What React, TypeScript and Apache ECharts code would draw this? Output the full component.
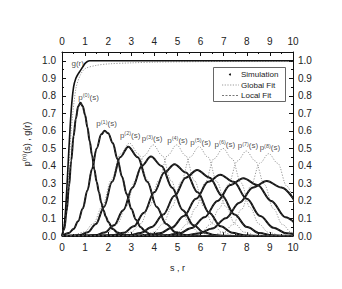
import React, { useEffect, useRef } from 'react';
import * as echarts from 'echarts';

// ---------- data ----------
const xTickValues = [0, 1, 2, 3, 4, 5, 6, 7, 8, 9, 10];

// pair distribution g(r): simulation and global fit
const gSim = [[0, 0], [0.1, 0.06], [0.2, 0.25], [0.3, 0.5], [0.4, 0.72], [0.5, 0.85], [0.6, 0.9], [0.7, 0.925], [0.8, 0.945], [0.9, 0.965], [1.0, 0.985], [1.1, 0.996], [1.2, 1.0], [1.5, 1.0], [2, 1.0], [3, 1.0], [4, 1.0], [5, 1.0], [6, 1.0], [7, 1.0], [8, 1.0], [9, 1.0], [10, 1.0]];
const gGlobal = [[0, 0], [0.2, 0.18], [0.4, 0.6], [0.6, 0.84], [0.8, 0.92], [1.0, 0.955], [1.5, 0.974], [2, 0.982], [3, 0.988], [4, 0.992], [6, 0.995], [8, 0.997], [10, 0.998]];

// spacing distributions p^(n)(s), simulation
const p0Sim = [[0, 0], [0.1, 0.04], [0.2, 0.14], [0.3, 0.28], [0.4, 0.43], [0.5, 0.57], [0.6, 0.67], [0.7, 0.74], [0.8, 0.76], [0.9, 0.74], [1.0, 0.69], [1.1, 0.62], [1.2, 0.54], [1.3, 0.46], [1.4, 0.38], [1.5, 0.31], [1.6, 0.25], [1.7, 0.19], [1.8, 0.145], [1.9, 0.11], [2.0, 0.08], [2.2, 0.04], [2.4, 0.02], [2.6, 0.008], [2.8, 0.003], [3.0, 0.001], [3.5, 0], [10, 0]];
const p1Sim = [[0, 0], [0.3, 0.017], [0.5, 0.04], [0.7, 0.084], [0.9, 0.157], [1.1, 0.26], [1.3, 0.383], [1.5, 0.5], [1.7, 0.58], [1.85, 0.6], [2.0, 0.586], [2.2, 0.53], [2.4, 0.44], [2.6, 0.338], [2.8, 0.239], [3.0, 0.155], [3.2, 0.093], [3.4, 0.052], [3.6, 0.026], [3.8, 0.012], [4.0, 0.005], [4.5, 0.001], [5, 0], [10, 0]];
const p2Sim = [[0, 0], [0.42, 0.001], [0.77, 0.006], [1.12, 0.022], [1.47, 0.069], [1.82, 0.166], [2.17, 0.309], [2.52, 0.45], [2.87, 0.51], [3.28, 0.45], [3.69, 0.309], [4.1, 0.166], [4.51, 0.069], [4.92, 0.022], [5.33, 0.006], [5.74, 0.001], [6.5, 0], [10, 0]];
const p3Sim = [[0, 0], [1.05, 0.001], [1.45, 0.005], [1.85, 0.02], [2.25, 0.061], [2.65, 0.147], [3.05, 0.275], [3.45, 0.4], [3.85, 0.453], [4.31, 0.4], [4.77, 0.275], [5.23, 0.147], [5.69, 0.061], [6.15, 0.02], [6.61, 0.005], [7.07, 0.001], [8, 0], [10, 0]];
const p4Sim = [[0, 0], [1.79, 0.001], [2.23, 0.0046], [2.67, 0.018], [3.11, 0.055], [3.55, 0.133], [3.99, 0.249], [4.43, 0.362], [4.87, 0.41], [5.37, 0.362], [5.87, 0.249], [6.37, 0.133], [6.87, 0.055], [7.37, 0.018], [7.87, 0.0046], [8.37, 0.001], [9, 0], [10, 0]];
const p5Sim = [[0, 0], [2.42, 0.001], [2.91, 0.004], [3.4, 0.0166], [3.89, 0.051], [4.38, 0.122], [4.87, 0.229], [5.36, 0.333], [5.85, 0.377], [6.39, 0.333], [6.93, 0.229], [7.47, 0.122], [8.01, 0.051], [8.55, 0.0166], [9.09, 0.004], [9.63, 0.001], [10, 0]];
const p6Sim = [[0, 0], [3.18, 0.001], [3.7, 0.004], [4.23, 0.015], [4.75, 0.047], [5.28, 0.114], [5.8, 0.212], [6.33, 0.309], [6.85, 0.35], [7.43, 0.309], [8.0, 0.212], [8.58, 0.114], [9.15, 0.047], [9.73, 0.015], [10.3, 0.004]];
const p7Sim = [[0, 0], [3.93, 0.001], [4.49, 0.004], [5.05, 0.0145], [5.61, 0.045], [6.17, 0.107], [6.73, 0.2], [7.29, 0.291], [7.85, 0.33], [8.46, 0.291], [9.06, 0.2], [9.67, 0.107], [10.27, 0.045]];
const p8Sim = [[0, 0], [4.73, 0.001], [5.32, 0.0035], [5.91, 0.0138], [6.5, 0.0425], [7.09, 0.102], [7.68, 0.19], [8.27, 0.277], [8.86, 0.314], [9.5, 0.277], [10.13, 0.19]];

// global fit curves (grey dotted) for n >= 2
const p2Global = [[0.58, 0.006], [0.97, 0.023], [1.36, 0.072], [1.75, 0.172], [2.14, 0.321], [2.53, 0.468], [2.92, 0.53], [3.31, 0.468], [3.7, 0.321], [4.09, 0.172], [4.48, 0.072], [4.87, 0.023], [5.26, 0.006]];
const p3Global = [[1.61, 0.006], [2.0, 0.023], [2.39, 0.07], [2.78, 0.169], [3.17, 0.315], [3.56, 0.459], [3.95, 0.52], [4.34, 0.459], [4.73, 0.315], [5.12, 0.169], [5.51, 0.07], [5.9, 0.023], [6.29, 0.006]];
const p4Global = [[2.62, 0.006], [3.01, 0.023], [3.4, 0.07], [3.79, 0.169], [4.18, 0.315], [4.57, 0.459], [4.96, 0.52], [5.35, 0.459], [5.74, 0.315], [6.13, 0.169], [6.52, 0.07], [6.91, 0.023], [7.3, 0.006]];
const p5Global = [[3.59, 0.006], [3.98, 0.022], [4.37, 0.069], [4.76, 0.166], [5.15, 0.309], [5.54, 0.45], [5.93, 0.51], [6.32, 0.45], [6.71, 0.309], [7.1, 0.166], [7.49, 0.069], [7.88, 0.022], [8.27, 0.006]];
const p6Global = [[4.63, 0.006], [5.02, 0.022], [5.41, 0.068], [5.8, 0.162], [6.19, 0.303], [6.58, 0.441], [6.97, 0.5], [7.36, 0.441], [7.75, 0.303], [8.14, 0.162], [8.53, 0.068], [8.92, 0.022], [9.31, 0.006]];
const p7Global = [[5.64, 0.005], [6.03, 0.021], [6.42, 0.066], [6.81, 0.157], [7.2, 0.294], [7.59, 0.428], [7.98, 0.485], [8.37, 0.428], [8.76, 0.294], [9.15, 0.157], [9.54, 0.066], [9.93, 0.021], [10.32, 0.005]];
const p8Global = [[6.61, 0.005], [7.0, 0.021], [7.39, 0.064], [7.78, 0.153], [8.17, 0.285], [8.56, 0.415], [8.95, 0.47], [9.34, 0.415], [9.73, 0.285], [10.12, 0.153]];

const simCurves = [p0Sim, p1Sim, p2Sim, p3Sim, p4Sim, p5Sim, p6Sim, p7Sim, p8Sim];
const globalCurves = [p0Sim, p1Sim, p2Global, p3Global, p4Global, p5Global, p6Global, p7Global, p8Global];

// curve labels: [s, value, order] (order -1 => g(r))
const curveLabels = [
  [0.68, 0.985, -1],
  [1.15, 0.792, 0],
  [1.93, 0.64, 1],
  [2.95, 0.575, 2],
  [3.9, 0.555, 3],
  [5.0, 0.545, 4],
  [6.0, 0.535, 5],
  [7.05, 0.525, 6],
  [8.05, 0.515, 7],
  [9.0, 0.503, 8],
];

const legendNames = ['Simulation', 'Global Fit', 'Local Fit'];

const FONT = 'Liberation Sans, Arial, Helvetica, sans-serif';
const INK = '#222';

export default function App() {
  const ref = useRef<HTMLDivElement>(null);
  useEffect(() => {
    if (!ref.current) return;
    const chart = echarts.init(ref.current, undefined, { renderer: 'svg' });

    const axisCommon = {
      axisLine: { show: true, onZero: false, lineStyle: { color: '#111', width: 1 } },
      axisTick: { show: true, inside: true, length: 4, lineStyle: { color: '#111' } },
      minorTick: { show: true, splitNumber: 2, length: 2, lineStyle: { color: '#111' } },
      splitLine: { show: false },
      minorSplitLine: { show: false },
    };

    const labelRich = {
      b: { fontSize: 8, fontFamily: FONT, color: INK, lineHeight: 10 },
      s: { fontSize: 5.5, fontFamily: FONT, color: INK, lineHeight: 6, verticalAlign: 'top' },
    };

    const series: any[] = [];
    series.push({
      type: 'line', data: gGlobal, showSymbol: false, smooth: 0.3, silent: true,
      lineStyle: { color: '#9a9a9a', width: 1, type: [1.2, 1.5] }, z: 2,
    });
    globalCurves.forEach((d) => series.push({
      type: 'line', data: d, showSymbol: false, smooth: 0.35, smoothMonotone: 'x', silent: true,
      lineStyle: { color: '#9a9a9a', width: 1, type: [1.2, 1.5] }, z: 2,
    }));
    series.push({
      type: 'line', data: gSim, showSymbol: false, smooth: 0.3, silent: true,
      lineStyle: { color: '#111', width: 1.6 }, z: 3,
    });
    simCurves.forEach((d) => series.push({
      type: 'line', data: d, showSymbol: false, smooth: 0.35, smoothMonotone: 'x', silent: true,
      lineStyle: { color: '#111', width: 2 }, z: 3,
    }));
    simCurves.forEach((d) => series.push({
      type: 'line', data: d, showSymbol: false, smooth: 0.35, smoothMonotone: 'x', silent: true,
      lineStyle: { color: '#555', width: 0.7, type: [2, 2] }, z: 4,
    }));
    series.push({
      type: 'scatter', data: curveLabels, symbolSize: 0, silent: true, z: 5,
      itemStyle: { color: INK },
      label: {
        show: true, position: 'inside', color: INK, textBorderWidth: 0,
        formatter: (p: any) => {
          const n = p.data[2];
          return n < 0 ? '{b|g(r)}' : `{b|p}{s|(${n})}{b|(s)}`;
        },
        rich: labelRich,
      },
    });

    const yFmt = (v: number) => (v > 1.0001 ? '' : v.toFixed(1));

    chart.setOption({
      animation: false,
      textStyle: { fontFamily: FONT },
      grid: { left: 62, right: 49, top: 52, bottom: 53, containLabel: false },
      xAxis: [
        {
          type: 'value', min: 0, max: 10, interval: 1, position: 'bottom', ...axisCommon,
          axisLabel: { margin: 6, fontSize: 10, color: INK, fontFamily: FONT },
          name: 's , r', nameLocation: 'middle', nameGap: 27,
          nameTextStyle: { fontSize: 9, color: INK, fontFamily: FONT },
        },
        {
          type: 'value', min: 0, max: 10, interval: 1, position: 'top', ...axisCommon,
          axisLabel: { margin: 6, fontSize: 10, color: INK, fontFamily: FONT },
          data: xTickValues,
        },
      ],
      yAxis: [
        {
          type: 'value', min: 0, max: 1.05, interval: 0.1, position: 'left', ...axisCommon,
          axisLabel: { margin: 6, fontSize: 10, color: INK, fontFamily: FONT, formatter: yFmt },
          name: '{b|p}{s|(n)}{b|(s) , g(r)}', nameLocation: 'middle', nameGap: 27, nameRotate: 90,
          nameTextStyle: {
            rich: {
              b: { fontSize: 9, fontFamily: FONT, color: INK, lineHeight: 11 },
              s: { fontSize: 6, fontFamily: FONT, color: INK, lineHeight: 6, verticalAlign: 'top' },
            },
          },
        },
        {
          type: 'value', min: 0, max: 1.05, interval: 0.1, position: 'right', ...axisCommon,
          axisLabel: { margin: 5, fontSize: 10, color: INK, fontFamily: FONT, formatter: yFmt },
        },
      ],
      graphic: [
        { type: 'rect', shape: { x: 213.5, y: 67.5, width: 72, height: 34 }, style: { fill: '#fff', stroke: '#666', lineWidth: 1 }, z: 10 },
        { type: 'circle', shape: { cx: 230, cy: 74.5, r: 1 }, style: { fill: '#111' }, z: 11 },
        { type: 'line', shape: { x1: 222, y1: 85, x2: 239, y2: 85 }, style: { stroke: '#9a9a9a', lineWidth: 1, lineDash: [1.2, 1.5] }, z: 11 },
        { type: 'line', shape: { x1: 222, y1: 95.5, x2: 239, y2: 95.5 }, style: { stroke: '#555', lineWidth: 0.8, lineDash: [2, 1.5] }, z: 11 },
        { type: 'text', x: 241, y: 74.5, style: { text: legendNames[0], fontSize: 8, fontFamily: FONT, fill: INK, verticalAlign: 'middle' }, z: 11 },
        { type: 'text', x: 241, y: 85, style: { text: legendNames[1], fontSize: 8, fontFamily: FONT, fill: INK, verticalAlign: 'middle' }, z: 11 },
        { type: 'text', x: 241, y: 95.5, style: { text: legendNames[2], fontSize: 8, fontFamily: FONT, fill: INK, verticalAlign: 'middle' }, z: 11 },
      ],
      series,
    });
    return () => chart.dispose();
  }, []);
  return <div ref={ref} style={{ position: 'fixed', left: 0, top: 0, width: 342, height: 289, background: '#fff' }} />;
}
